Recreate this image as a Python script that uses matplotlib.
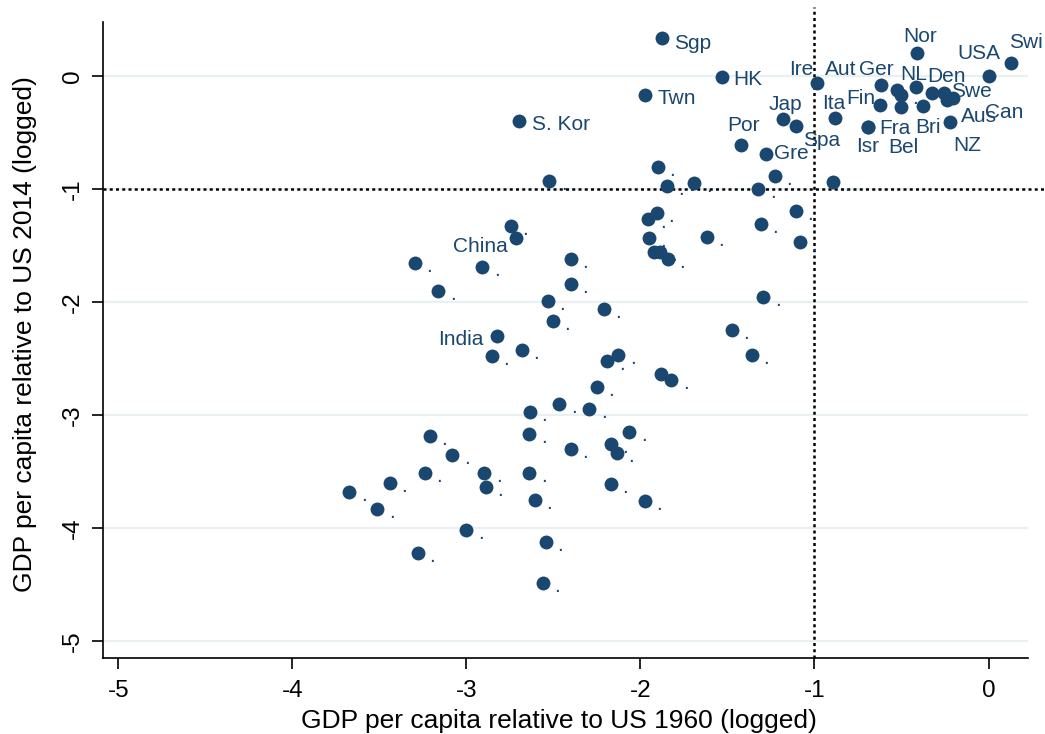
import matplotlib

matplotlib.use("Agg")
import matplotlib.pyplot as plt

plt.rcParams["font.family"] = ["Liberation Sans", "DejaVu Sans"]
plt.rcParams["axes.unicode_minus"] = False

NAVY = "#1a476f"
GRID = "#e8f0f2"

# log GDP per capita relative to the US, 1960 (x) and 2014 (y)
countries = [
    "Sgp", "HK", "Twn", "S. Kor", "Por", "Gre", "Jap", "Spa", "Ire", "Ita",
    "Aut", "Ger", ".", "NL", "Den", "Swe", "Can", "Aus", "NZ", "Fin",
    "Bel", "Bri", "Fra", "Isr", "Nor", "Swi", "USA", "China", "India",
]
gdp_1960 = [
    -1.876, -1.532, -1.974, -2.697, -1.422, -1.279, -1.179, -1.108, -0.984, -0.882,
    -0.618, -0.528, -0.505, -0.418, -0.326, -0.254, -0.240, -0.202, -0.221, -0.624,
    -0.503, -0.375, -0.691, -0.691, -0.413, 0.129, 0.0, -2.717, -2.823,
]
gdp_2014 = [
    0.336, -0.009, -0.168, -0.398, -0.610, -0.692, -0.383, -0.439, -0.065, -0.374,
    -0.080, -0.124, -0.168, -0.100, -0.153, -0.153, -0.212, -0.197, -0.404, -0.256,
    -0.277, -0.263, -0.448, -0.451, 0.206, 0.112, 0.0, -1.435, -2.299,
]

# countries shown without a name (Stata prints their missing label as ".")
other_1960 = [
    -2.524, -1.901, -1.849, -1.691, -1.323, -1.228, -0.895, -2.744, -3.296, -2.909,
    -2.399, -3.162, -2.399, -2.532, -2.211, -2.503, -2.853, -2.681, -2.128, -2.191,
    -1.882, -1.823, -2.252, -1.955, -1.907, -1.106, -1.307, -1.951, -1.620, -1.083,
    -1.921, -1.888, -1.842, -1.294, -1.474, -1.359, -2.467, -2.294, -2.635, -2.639,
    -2.064, -2.170, -2.137, -3.210, -3.082, -2.401, -3.240, -2.898, -2.639, -3.440,
    -2.890, -3.674, -3.513, -2.608, -2.171, -1.974, -3.001, -3.279, -2.543, -2.562,
]
other_2014 = [
    -0.926, -0.809, -0.973, -0.943, -1.001, -0.887, -0.940, -1.324, -1.656, -1.686,
    -1.618, -1.901, -1.842, -1.989, -2.063, -2.166, -2.473, -2.420, -2.471, -2.518,
    -2.637, -2.685, -2.752, -1.261, -1.214, -1.194, -1.309, -1.430, -1.426, -1.465,
    -1.553, -1.559, -1.621, -1.951, -2.248, -2.467, -2.900, -2.942, -2.968, -3.165,
    -3.150, -3.256, -3.331, -3.180, -3.348, -3.301, -3.508, -3.508, -3.513, -3.601,
    -3.631, -3.676, -3.831, -3.746, -3.605, -3.760, -4.011, -4.215, -4.120, -4.480,
]

x_ticks = [-5, -4, -3, -2, -1, 0]
y_ticks = [-5, -4, -3, -2, -1, 0]
x_title = "GDP per capita relative to US 1960 (logged)"
y_title = "GDP per capita relative to US 2014 (logged)"

# label placement: (right, down) in pixels from the marker centre to the
# label's centre/baseline, like Stata's per-country mlabvposition
LABEL_OFFSETS = {
    "Sgp": (30.5, 11), "HK": (25.5, 8), "Twn": (32, 9), "S. Kor": (41.7, 9),
    "Por": (2, -14), "Gre": (25.5, 4.7), "Jap": (1.7, -9.3), "Spa": (25.8, 20.3),
    "Ire": (-15.8, -8.3), "Ita": (-1, -9.3), "Aut": (-40, -10), "Ger": (-20.2, -15),
    "NL": (-2.2, -7.3), "Den": (14.3, -11.3), "Swe": (26.7, 3.7), "Can": (57.3, 18),
    "Aus": (25.2, 23.7), "NZ": (17.5, 29.3), "Fin": (-19, -1), "Bel": (2, 45.7),
    "Bri": (5.2, 27.3), "Fra": (26.2, 7.3), "Isr": (-0.8, 25), "Nor": (3.3, -10.7),
    "Swi": (15, -15.3), "USA": (-10, -17), "China": (-35.2, 13.7), "India": (-36.8, 9),
}
DOT_OFFSET = (11.5, 9)

W, H = 1045, 734
fig = plt.figure(figsize=(W / 100, H / 100), dpi=100)
# plot region in pixels: x 103..1028, y 22..658
ax = fig.add_axes([103 / W, (H - 658) / H, (1028 - 103) / W, (658 - 22) / H])

ax.set_xlim(-5.089, 0.227)
ax.set_ylim(-5.146, 0.477)

ax.yaxis.grid(True, color=GRID, linewidth=1.6)
ax.xaxis.grid(False)
ax.set_axisbelow(True)

dotted = dict(color="black", linewidth=1.8, linestyle=(0, (1.2, 1.3)),
              dash_capstyle="butt", clip_on=False, zorder=2)
ax.axvline(-1, ymin=0, ymax=1 + 15 / 636, **dotted)
ax.axhline(-1, xmin=0, xmax=1 + 17 / 925, **dotted)

ax.scatter(other_1960, other_2014, s=100, color=NAVY, linewidths=0, zorder=3)
ax.scatter(gdp_1960, gdp_2014, s=100, color=NAVY, linewidths=0, zorder=3)

for x, y in zip(other_1960, other_2014):
    ax.annotate(".", (x, y), xytext=(DOT_OFFSET[0], -DOT_OFFSET[1]),
                textcoords="offset pixels", ha="left", va="baseline",
                fontsize=15, color=NAVY, zorder=4)

for name, x, y in zip(countries, gdp_1960, gdp_2014):
    if name == ".":
        dx, dy, ha = DOT_OFFSET[0], DOT_OFFSET[1], "left"
    else:
        dx, dy = LABEL_OFFSETS[name]
        ha = "center"
    ax.annotate(name, (x, y), xytext=(dx, -dy), textcoords="offset pixels",
                ha=ha, va="baseline", fontsize=15, color=NAVY, zorder=4)

for side in ("top", "right"):
    ax.spines[side].set_visible(False)
for side in ("left", "bottom"):
    ax.spines[side].set_linewidth(1.2)
    ax.spines[side].set_color("black")

ax.set_xticks(x_ticks)
ax.set_xticklabels([str(t) for t in x_ticks])
ax.set_yticks(y_ticks)
ax.set_yticklabels([str(t) for t in y_ticks], rotation=90, va="center")
ax.tick_params(axis="both", length=8, width=1.2, labelsize=17.5, color="black")
ax.tick_params(axis="x", pad=8)
ax.tick_params(axis="y", pad=6)

fig.text(558.5 / W, 1 - 728 / H, x_title, ha="center", va="baseline", fontsize=19)
fig.text(32 / W, 1 - 334 / H, y_title, ha="center", va="baseline", fontsize=19,
         rotation=90, rotation_mode="anchor")

fig.savefig("out.png", dpi=100)
